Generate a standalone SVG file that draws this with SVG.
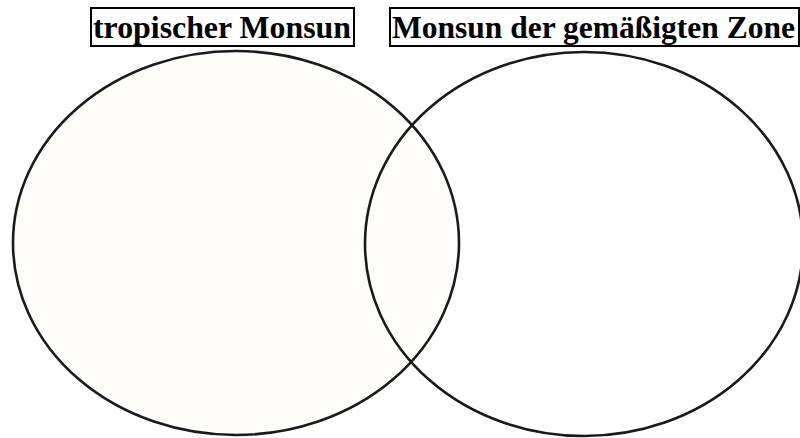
<svg xmlns="http://www.w3.org/2000/svg" width="800" height="438" viewBox="0 0 800 438">
<style>
.ell{stroke:#1a1a1a;stroke-width:2.6}
.lbl{font-family:"Liberation Serif","Times New Roman",serif;font-weight:bold;font-size:31px;fill:#000}
.box{fill:none;stroke:#000;stroke-width:2}
</style>
<rect width="800" height="438" fill="#fff"/>
<g id="left-set">
<ellipse class="ell" cx="236" cy="243" rx="223" ry="192" fill="#fefdfb"/>
</g>
<g id="right-set">
<ellipse class="ell" cx="584" cy="244" rx="219" ry="192" fill="none"/>
</g>
<g id="label-left">
<rect class="box" x="91" y="8" width="263" height="38"/>
<text class="lbl" x="93" y="38" textLength="258" lengthAdjust="spacingAndGlyphs">tropischer Monsun</text>
</g>
<g id="label-right">
<rect class="box" x="390" y="8" width="409" height="38"/>
<text class="lbl" x="392" y="38" textLength="403" lengthAdjust="spacingAndGlyphs">Monsun der gemäßigten Zone</text>
</g>
<g id="connectors"/>
</svg>
